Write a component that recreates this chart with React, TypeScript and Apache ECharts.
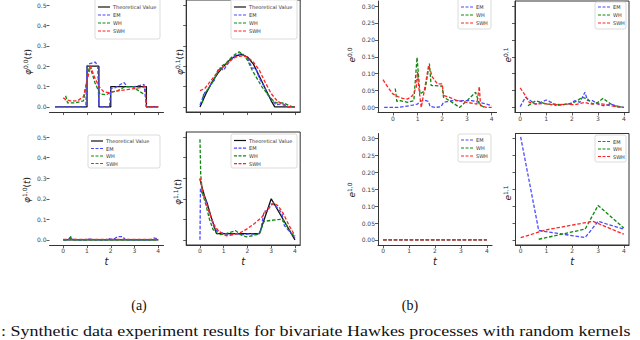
import React, { useEffect, useRef } from "react";
import * as echarts from "echarts";

// ---------- tick values ----------
const tTicks = [0, 1, 2, 3, 4];
const aTicksY = [0, 0.1, 0.2, 0.3, 0.4, 0.5];
const bTicksY = [0, 0.05, 0.1, 0.15, 0.2, 0.25, 0.3];
const legendA = ["Theoretical Value", "EM", "WH", "SWH"];
const legendB = ["EM", "WH", "SWH"];

// ---------- (a) kernel estimates: [t, phi(t)] ----------
const theo00 = [[-0.35, 0], [1, 0], [1, 0.2], [1.5, 0.2], [1.5, 0], [2, 0], [2, 0.1], [3.5, 0.1], [3.5, 0], [4, 0]];
const em00 = [[-0.35, 0], [0.9, 0], [0.95, 0.005], [1.0, 0.2], [1.05, 0.21], [1.2, 0.215], [1.35, 0.22], [1.45, 0.2], [1.5, 0], [1.95, 0], [2.0, 0.09], [2.2, 0.095], [2.4, 0.11], [2.55, 0.12], [2.7, 0.1], [3.0, 0.1], [3.2, 0.105], [3.4, 0.11], [3.5, 0], [4, 0]];
const wh00 = [[0.1, 0.055], [0.18, 0.02], [0.5, 0.02], [0.85, 0.03], [1.1, 0.2], [1.2, 0.17], [1.33, 0.12], [1.54, 0.064], [1.82, 0.06], [2.0, 0.072], [2.3, 0.08], [2.6, 0.1], [2.94, 0.1], [3.1, 0.085], [3.37, 0.064]];
const swh00 = [[0, 0.045], [0.1, 0.035], [0.3, 0.03], [0.6, 0.03], [0.85, 0.05], [1.0, 0.13], [1.15, 0.2], [1.3, 0.15], [1.5, 0.1], [1.7, 0.075], [1.9, 0.07], [2.1, 0.075], [2.4, 0.08], [2.7, 0.085], [3.0, 0.09], [3.3, 0.095], [3.45, 0.1], [3.5, 0], [4, 0]];

const theo01 = [[0, 0], [0.25, 0.065], [0.5, 0.12], [0.75, 0.165], [1.0, 0.2], [1.25, 0.23], [1.5, 0.25], [1.75, 0.258], [2.0, 0.245], [2.25, 0.21], [2.5, 0.15], [2.75, 0.09], [3.0, 0.03], [3.15, 0], [4, 0]];
const em01 = [[0, 0.01], [0.1, 0.04], [0.2, 0.07], [0.35, 0.09], [0.5, 0.12], [0.6, 0.13], [0.75, 0.18], [0.85, 0.19], [1.0, 0.18], [1.1, 0.2], [1.3, 0.23], [1.5, 0.255], [1.75, 0.262], [2.0, 0.24], [2.2, 0.19], [2.35, 0.19], [2.5, 0.14], [2.7, 0.1], [2.85, 0.06], [3.0, 0.04], [3.2, 0.01], [3.5, 0.015], [3.7, 0], [4, 0]];
const wh01 = [[0.1, 0.02], [0.15, 0.06], [0.3, 0.08], [0.5, 0.115], [0.7, 0.16], [0.9, 0.2], [1.1, 0.215], [1.3, 0.24], [1.5, 0.26], [1.65, 0.27], [1.8, 0.26], [2.0, 0.23], [2.2, 0.18], [2.4, 0.14], [2.6, 0.1], [2.8, 0.07], [3.0, 0.04], [3.2, 0.02], [3.5, 0.02], [3.9, 0]];
const swh01 = [[0, 0.08], [0.2, 0.09], [0.4, 0.12], [0.6, 0.15], [0.8, 0.18], [1.0, 0.2], [1.25, 0.225], [1.5, 0.245], [1.75, 0.25], [2.0, 0.245], [2.25, 0.22], [2.5, 0.18], [2.75, 0.12], [3.0, 0.065], [3.25, 0.03], [3.5, 0.01], [3.75, 0], [4, 0]];

const theo10 = [[0, 0], [4, 0]];
const em10 = [[0, 0], [0.2, 0], [0.3, 0.012], [0.4, 0.004], [0.6, 0], [0.9, 0], [1.0, 0.004], [1.2, 0.003], [1.4, 0], [1.8, 0], [1.9, 0.006], [2.1, 0.002], [2.3, 0.016], [2.5, 0.016], [2.6, 0.002], [2.9, 0], [3.7, 0], [3.8, 0.01], [4.0, 0.004]];
const wh10 = [[0, 0], [0.25, 0], [0.3, 0.02], [0.35, 0], [4, 0]];
const swh10 = [[0, 0.002], [4, 0.002]];

const theo11 = [[0, 0.296], [0.1, 0.25], [0.2, 0.21], [0.3, 0.18], [0.4, 0.14], [0.5, 0.1], [0.6, 0.065], [0.7, 0.03], [2.5, 0.03], [3.0, 0.2], [4.0, 0]];
const em11 = [[0, 0], [0.02, 0.25], [0.1, 0.22], [0.2, 0.21], [0.3, 0.17], [0.4, 0.13], [0.5, 0.1], [0.6, 0.06], [0.7, 0.045], [0.9, 0.035], [1.2, 0.025], [1.5, 0.03], [1.8, 0.025], [2.1, 0.03], [2.4, 0.025], [2.55, 0.04], [2.7, 0.14], [2.85, 0.14], [3.0, 0.175], [3.15, 0.17], [3.3, 0.15], [3.45, 0.13], [3.55, 0.07], [3.7, 0.05], [3.85, 0.03], [4.0, 0.01]];
const wh11 = [[0, 0.49], [0.03, 0.32], [0.1, 0.23], [0.25, 0.17], [0.4, 0.1], [0.55, 0.05], [0.8, 0.025], [1.1, 0.03], [1.5, 0.045], [1.7, 0.025], [1.95, 0.015], [2.2, 0.02], [2.5, 0.03], [2.7, 0.09], [3.0, 0.095], [3.4, 0.1], [3.6, 0.08], [3.8, 0.04], [3.95, 0.02]];
const swh11 = [[0, 0.3], [0.15, 0.22], [0.35, 0.15], [0.55, 0.08], [0.8, 0.04], [1.1, 0.02], [1.4, 0.025], [1.7, 0.035], [2.0, 0.055], [2.3, 0.08], [2.6, 0.11], [2.85, 0.15], [3.1, 0.18], [3.3, 0.165], [3.5, 0.13], [3.75, 0.07], [4.0, 0.02]];

// ---------- (b) errors: [t, e(t)] ----------
const emE00 = [[-0.35, 0], [0.2, 0], [0.5, 0.003], [0.8, 0.007], [1.0, 0.01], [1.1, 0.018], [1.3, 0.021], [1.45, 0.018], [1.5, 0.003], [1.7, 0], [1.95, 0.002], [2.05, 0.015], [2.4, 0.02], [2.8, 0.02], [3.2, 0.02], [3.5, 0.015], [3.8, 0.01], [4.0, 0.005]];
const whE00 = [[0.1, 0.056], [0.16, 0.018], [0.3, 0.02], [0.6, 0.015], [0.85, 0.02], [0.98, 0.148], [1.1, 0.04], [1.3, 0.05], [1.48, 0.13], [1.55, 0.065], [2.0, 0.063], [2.05, 0.03], [2.3, 0.02], [2.7, 0], [3.0, 0.02], [3.35, 0.045], [3.5, 0.01], [3.7, 0]];
const swhE00 = [[-0.4, 0.082], [-0.2, 0.06], [0, 0.04], [0.2, 0.032], [0.4, 0.027], [0.6, 0.025], [0.8, 0.035], [0.95, 0.06], [1.0, 0.105], [1.05, 0.06], [1.15, 0], [1.3, 0.06], [1.45, 0.125], [1.6, 0.09], [1.8, 0.07], [2.0, 0.07], [2.05, 0.035], [2.3, 0.03], [2.6, 0.02], [3.0, 0.015], [3.4, 0.01], [3.5, 0.062], [3.55, 0.005], [3.8, 0], [4.0, 0]];

const emE01 = [[0, 0.002], [0.2, 0.03], [0.4, 0.02], [0.6, 0.01], [0.8, 0.015], [1.0, 0.022], [1.2, 0.015], [1.4, 0.005], [1.6, 0.008], [1.9, 0.01], [2.1, 0.02], [2.3, 0.015], [2.5, 0.045], [2.6, 0.02], [2.8, 0.02], [3.0, 0.01], [3.2, 0.005], [3.5, 0.01], [3.7, 0.005], [4.0, 0]];
const whE01 = [[0.3, 0.005], [0.6, 0.02], [0.8, 0.015], [1.0, 0.01], [1.3, 0.01], [1.6, 0.008], [2.0, 0.012], [2.2, 0.02], [2.4, 0.03], [2.6, 0.025], [2.8, 0.01], [3.0, 0.015], [3.2, 0.027], [3.4, 0.015], [3.6, 0.005], [4.0, 0]];
const swhE01 = [[0, 0.058], [0.2, 0.035], [0.35, 0.015], [0.6, 0.01], [0.9, 0.012], [1.2, 0.008], [1.5, 0.008], [1.8, 0.01], [2.1, 0.008], [2.5, 0.015], [2.7, 0.01], [3.0, 0.012], [3.2, 0.01], [3.5, 0.005], [3.8, 0.001], [4.0, 0]];

const emE10 = [[0, 0], [4, 0]];
const whE10 = [[0, 0], [4, 0]];
const swhE10 = [[0, 0], [4, 0]];

const emE11 = [[0, 0.305], [0.7, 0.028], [2.5, 0.007], [3.0, 0.055], [4, 0.032]];
const whE11 = [[0.7, 0.002], [2.5, 0.032], [3.0, 0.102], [4, 0.035]];
const swhE11 = [[0, 0.007], [1, 0.03], [2.8, 0.055], [4, 0.017]];

// ---------- styles ----------
const STYLE: Record<string, any> = {
  "Theoretical Value": { color: "#111111", type: "solid", dash: null, width: 1.3 },
  EM: { color: "#4a4aff", type: [3.5, 1.8], dash: [3, 1.5], width: 1.3 },
  WH: { color: "#0f870f", type: [3.5, 1.8], dash: [3, 1.5], width: 1.3 },
  SWH: { color: "#ff2424", type: [3.5, 1.8], dash: [3, 1.5], width: 1.3 },
};
const AX = "#333333";
const TXT = "#444444";
const FONT = "DejaVu Sans";

type Panel = {
  grid: any;
  x: number[];
  y: number[];
  yTicks: number[];
  digits: number;
  showY: boolean;
  showX: boolean;
  frame: "none" | "left" | "box";
  sym: string;
  sup: string;
  labPos: number[];
  tName: boolean;
  legendNames: string[];
  legendBox: number[]; // x, y, w, h
  legendRow0: number;
  legendPitch: number;
  series: [string, number[][]][];
};

const panels: Panel[] = [
  {
    grid: { left: 49.5, top: -3.5, width: 114, height: 115.5 }, x: [-0.58, 4.22], y: [-0.025, 0.525], yTicks: aTicksY, digits: 1,
    showY: true, showX: false, frame: "none", sym: "φ", sup: "0,0", labPos: [28, 62], tName: false,
    legendNames: legendA, legendBox: [95, -2, 65, 41], legendRow0: 7, legendPitch: 8,
    series: [["Theoretical Value", theo00], ["EM", em00], ["WH", wh00], ["SWH", swh00]],
  },
  {
    grid: { left: 186.2, top: -3.5, width: 114, height: 115.5 }, x: [-0.58, 4.22], y: [-0.025, 0.525], yTicks: aTicksY, digits: 1,
    showY: false, showX: false, frame: "box", sym: "φ", sup: "0,1", labPos: [180, 62], tName: false,
    legendNames: legendA, legendBox: [231, -2, 66, 41], legendRow0: 7, legendPitch: 8,
    series: [["Theoretical Value", theo01], ["EM", em01], ["WH", wh01], ["SWH", swh01]],
  },
  {
    grid: { left: 49.5, top: 132, width: 114, height: 113 }, x: [-0.58, 4.22], y: [-0.025, 0.525], yTicks: aTicksY, digits: 1,
    showY: true, showX: true, frame: "none", sym: "φ", sup: "1,0", labPos: [27, 190], tName: true,
    legendNames: legendA, legendBox: [88, 135, 72, 33], legendRow0: 141, legendPitch: 7.5,
    series: [["Theoretical Value", theo10], ["EM", em10], ["WH", wh10], ["SWH", swh10]],
  },
  {
    grid: { left: 186.2, top: 132, width: 114, height: 113 }, x: [-0.58, 4.22], y: [-0.025, 0.525], yTicks: aTicksY, digits: 1,
    showY: false, showX: true, frame: "box", sym: "φ", sup: "1,1", labPos: [178, 192], tName: true,
    legendNames: legendA, legendBox: [231, 134, 66, 34], legendRow0: 140.5, legendPitch: 7.7,
    series: [["Theoretical Value", theo11], ["EM", em11], ["WH", wh11], ["SWH", swh11]],
  },
  {
    grid: { left: 378, top: 1, width: 118.6, height: 111.5 }, x: [-0.6, 4.2], y: [-0.015, 0.315], yTicks: bTicksY, digits: 2,
    showY: true, showX: true, frame: "left", sym: "e", sup: "0,0", labPos: [352, 55], tName: false,
    legendNames: legendB, legendBox: [458, -2, 33, 31], legendRow0: 7, legendPitch: 8,
    series: [["EM", emE00], ["WH", whE00], ["SWH", swhE00]],
  },
  {
    grid: { left: 515, top: 1, width: 114, height: 111.5 }, x: [-0.2, 4.2], y: [-0.015, 0.315], yTicks: bTicksY, digits: 2,
    showY: false, showX: true, frame: "box", sym: "e", sup: "0,1", labPos: [508, 55], tName: false,
    legendNames: legendB, legendBox: [595, 2, 31, 27], legendRow0: 7, legendPitch: 8,
    series: [["EM", emE01], ["WH", whE01], ["SWH", swhE01]],
  },
  {
    grid: { left: 378, top: 133.5, width: 114, height: 111.5 }, x: [-0.2, 4.2], y: [-0.015, 0.315], yTicks: bTicksY, digits: 2,
    showY: true, showX: true, frame: "left", sym: "e", sup: "1,0", labPos: [352, 190], tName: true,
    legendNames: legendB, legendBox: [458, 134, 33, 28], legendRow0: 140, legendPitch: 8,
    series: [["EM", emE10], ["WH", whE10], ["SWH", swhE10]],
  },
  {
    grid: { left: 515.5, top: 133.5, width: 113.5, height: 111.5 }, x: [-0.2, 4.2], y: [-0.015, 0.315], yTicks: bTicksY, digits: 2,
    showY: false, showX: true, frame: "box", sym: "e", sup: "1,1", labPos: [508, 193], tName: true,
    legendNames: legendB, legendBox: [595, 135, 31, 27], legendRow0: 141.5, legendPitch: 7.5,
    series: [["EM", emE11], ["WH", whE11], ["SWH", swhE11]],
  },
];

function legendGraphics(p: Panel): any[] {
  const [bx, by, bw, bh] = p.legendBox;
  const out: any[] = [
    {
      type: "rect",
      z: 100,
      silent: true,
      shape: { x: bx, y: by, width: bw, height: bh, r: 2 },
      style: { fill: "rgba(255,255,255,0.88)", stroke: "#d2d2d2", lineWidth: 0.8 },
    },
  ];
  p.legendNames.forEach((name, k) => {
    const s = STYLE[name];
    const yy = p.legendRow0 + k * p.legendPitch;
    out.push({
      type: "line",
      z: 101,
      silent: true,
      shape: { x1: bx + 3, y1: yy, x2: bx + 15, y2: yy },
      style: { stroke: s.color, lineWidth: 1.2, lineDash: s.dash || undefined },
    });
    out.push({
      type: "text",
      z: 101,
      silent: true,
      x: bx + 18,
      y: yy,
      style: { text: name, fontSize: 5, fontFamily: FONT, fill: "#333", align: "left", verticalAlign: "middle" },
    });
  });
  return out;
}

function buildOption() {
  const grid: any[] = [];
  const xAxis: any[] = [];
  const yAxis: any[] = [];
  const series: any[] = [];
  const graphic: any[] = [];

  panels.forEach((p, i) => {
    grid.push({
      ...p.grid,
      containLabel: false,
      show: p.frame === "box",
      borderColor: AX,
      borderWidth: 1,
      backgroundColor: "transparent",
    });
    xAxis.push({
      type: "value",
      gridIndex: i,
      min: p.x[0],
      max: p.x[1],
      axisLine: { show: true, onZero: false, lineStyle: { color: AX, width: 1 } },
      axisTick: { show: true, length: 3, inside: false, customValues: tTicks, lineStyle: { color: AX, width: 0.8 } },
      axisLabel: {
        show: p.showX,
        customValues: tTicks,
        fontSize: 6,
        margin: 2.5,
        color: TXT,
        fontFamily: FONT,
        formatter: (v: number) => String(v),
      },
      splitLine: { show: false },
      name: p.tName ? "t" : "",
      nameLocation: "middle",
      nameGap: 11,
      nameTextStyle: { fontSize: 10, fontStyle: "italic", fontFamily: FONT, color: "#222" },
    });
    yAxis.push({
      type: "value",
      gridIndex: i,
      min: p.y[0],
      max: p.y[1],
      axisLine: { show: p.frame !== "none", onZero: false, lineStyle: { color: AX, width: 1 } },
      axisTick: { show: true, length: 3, inside: false, customValues: p.yTicks, lineStyle: { color: AX, width: 0.8 } },
      axisLabel: {
        show: p.showY,
        customValues: p.yTicks,
        fontSize: 6,
        margin: 3,
        color: TXT,
        fontFamily: FONT,
        formatter: (v: number) => v.toFixed(p.digits),
      },
      splitLine: { show: false },
    });
    p.series.forEach(([name, data]) => {
      const s = STYLE[name];
      series.push({
        type: "line",
        name,
        xAxisIndex: i,
        yAxisIndex: i,
        data,
        symbol: "none",
        showSymbol: false,
        clip: true,
        silent: true,
        lineStyle: { color: s.color, width: s.width, type: s.type },
        itemStyle: { color: s.color },
      });
    });
    graphic.push(...legendGraphics(p));
    graphic.push({
      type: "text",
      x: p.labPos[0],
      y: p.labPos[1],
      rotation: Math.PI / 2,
      silent: true,
      style: {
        text: `{i|${p.sym}}{s|${p.sup}}${p.sym === "φ" ? "{n|(}{i|t}{n|)}" : ""}`,
        align: "center",
        verticalAlign: "middle",
        fill: "#222",
        rich: {
          i: { fontSize: 9, fontStyle: "italic", fontFamily: FONT, fill: "#222", lineHeight: 11 },
          n: { fontSize: 9, fontFamily: FONT, fill: "#222", lineHeight: 11 },
          s: { fontSize: 6, fontFamily: FONT, fill: "#222", verticalAlign: "top", lineHeight: 11 },
        },
      },
    });
  });

  graphic.push(
    {
      type: "text",
      x: 139,
      y: 305,
      silent: true,
      style: { text: "(a)", fontSize: 14, fontFamily: "Liberation Serif", fill: "#111", align: "center", verticalAlign: "middle" },
    },
    {
      type: "text",
      x: 410,
      y: 305,
      silent: true,
      style: { text: "(b)", fontSize: 14, fontFamily: "Liberation Serif", fill: "#111", align: "center", verticalAlign: "middle" },
    },
    {
      type: "text",
      x: 1,
      y: 331,
      scaleX: 1.2,
      silent: true,
      style: {
        text: ": Synthetic data experiment results for bivariate Hawkes processes with random kernels",
        fontSize: 15,
        fontFamily: "Liberation Serif",
        fill: "#111",
        align: "left",
        verticalAlign: "middle",
      },
    }
  );

  return {
    animation: false,
    backgroundColor: "#ffffff",
    grid,
    xAxis,
    yAxis,
    series,
    graphic,
  };
}

export default function App() {
  const ref = useRef<HTMLDivElement>(null);
  useEffect(() => {
    if (!ref.current) return;
    const chart = echarts.init(ref.current, undefined, { renderer: "svg", width: 640, height: 340 });
    chart.setOption(buildOption() as any);
    return () => chart.dispose();
  }, []);
  return (
    <div
      ref={ref}
      style={{ position: "absolute", left: 0, top: 0, width: 640, height: 340, background: "#fff" }}
    />
  );
}
